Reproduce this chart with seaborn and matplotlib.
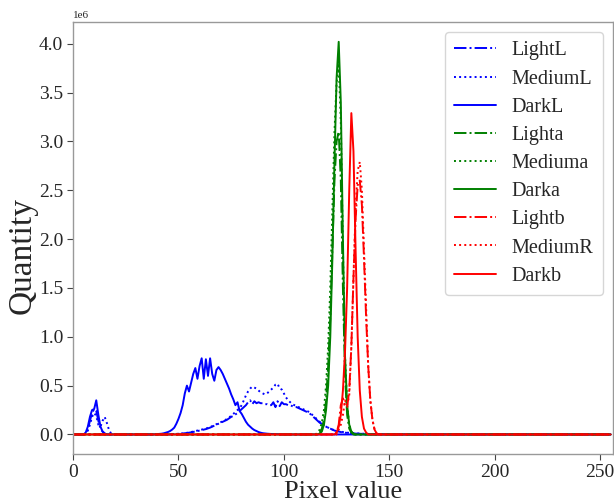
import numpy as np
import pandas as pd
import seaborn as sns
import matplotlib
matplotlib.use("Agg")
import matplotlib.pyplot as plt

# ---------------- data (values in millions) ----------------
pixel_values = np.arange(256)

lightL_start_a = 5
lightL_a = [0.0, 0.01, 0.05, 0.14, 0.22, 0.26, 0.24, 0.14, 0.06, 0.03, 0.01, 0.0]
lightL_start_b = 45
lightL_b = [0.0, 0.002, 0.003, 0.004, 0.005, 0.006, 0.008, 0.01, 0.012, 0.015,
            0.018, 0.022, 0.026, 0.03, 0.035, 0.04, 0.045, 0.05, 0.055, 0.062,
            0.07, 0.08, 0.09, 0.10, 0.11, 0.12, 0.13, 0.14, 0.15, 0.165,
            0.18, 0.19, 0.205, 0.22, 0.24, 0.26, 0.28, 0.30, 0.33, 0.35,
            0.31, 0.34, 0.32, 0.33, 0.32, 0.32, 0.31, 0.31, 0.30, 0.30,
            0.33, 0.28, 0.34, 0.29, 0.33, 0.31, 0.31, 0.30, 0.30, 0.29,
            0.28, 0.28, 0.27, 0.26, 0.25, 0.24, 0.23, 0.22, 0.20, 0.18,
            0.16, 0.14, 0.12, 0.11, 0.09, 0.08, 0.07, 0.06, 0.05, 0.04,
            0.035, 0.03, 0.025, 0.02, 0.018, 0.015, 0.013, 0.011, 0.01, 0.009,
            0.008, 0.007, 0.006, 0.005, 0.005, 0.004, 0.004, 0.003, 0.003, 0.002,
            0.002, 0.002, 0.001, 0.001, 0.001, 0.001, 0.0]

mediumL_start_a = 5
mediumL_a = [0.0, 0.01, 0.04, 0.10, 0.18, 0.22, 0.19, 0.10, 0.08, 0.14,
             0.18, 0.12, 0.05, 0.01, 0.0]
mediumL_start_b = 45
mediumL_b = [0.0, 0.002, 0.003, 0.004, 0.005, 0.007, 0.009, 0.011, 0.014, 0.017,
             0.02, 0.025, 0.03, 0.035, 0.04, 0.045, 0.05, 0.055, 0.06, 0.068,
             0.075, 0.085, 0.095, 0.105, 0.115, 0.125, 0.135, 0.145, 0.16, 0.175,
             0.19, 0.21, 0.23, 0.25, 0.27, 0.30, 0.35, 0.40, 0.44, 0.47,
             0.49, 0.48, 0.47, 0.45, 0.43, 0.42, 0.41, 0.42, 0.44, 0.46,
             0.48, 0.51, 0.52, 0.47, 0.46, 0.42, 0.38, 0.35, 0.33, 0.31,
             0.30, 0.29, 0.28, 0.27, 0.26, 0.25, 0.24, 0.23, 0.21, 0.19,
             0.17, 0.15, 0.13, 0.11, 0.095, 0.08, 0.07, 0.06, 0.05, 0.045,
             0.04, 0.035, 0.03, 0.025, 0.02, 0.018, 0.016, 0.014, 0.012, 0.011,
             0.01, 0.009, 0.008, 0.007, 0.006, 0.005, 0.005, 0.004, 0.004, 0.003,
             0.003, 0.002, 0.002, 0.001, 0.001, 0.0]

darkL_start_a = 5
darkL_a = [0.0, 0.02, 0.08, 0.18, 0.25, 0.26, 0.35, 0.20, 0.08, 0.03, 0.01, 0.0]
darkL_start_b = 38
darkL_b = [0.0, 0.002, 0.003, 0.005, 0.008, 0.012, 0.018, 0.025, 0.035, 0.05,
           0.07, 0.11, 0.16, 0.22, 0.30, 0.42, 0.50, 0.44, 0.53, 0.62,
           0.68, 0.57, 0.70, 0.78, 0.57, 0.77, 0.60, 0.78, 0.62, 0.55,
           0.66, 0.69, 0.66, 0.62, 0.57, 0.52, 0.47, 0.41, 0.36, 0.30,
           0.33, 0.24, 0.21, 0.17, 0.13, 0.10, 0.08, 0.06, 0.045, 0.035,
           0.025, 0.018, 0.013, 0.01, 0.008, 0.006, 0.005, 0.004, 0.003, 0.002,
           0.002, 0.001, 0.0]

lighta_start = 116
lighta = [0.0, 0.02, 0.06, 0.15, 0.35, 0.70, 1.20, 1.90, 2.60, 3.00,
          3.10, 2.60, 1.50, 0.60, 0.20, 0.06, 0.02, 0.0]
mediuma_start = 115
mediuma = [0.0, 0.02, 0.05, 0.12, 0.25, 0.50, 0.90, 1.50, 2.30, 3.10,
           3.60, 3.80, 3.20, 1.90, 0.80, 0.30, 0.10, 0.03, 0.0]
darka_start = 116
darka = [0.0, 0.01, 0.03, 0.10, 0.25, 0.50, 1.00, 1.80, 2.80, 3.65,
         4.02, 3.40, 2.00, 0.80, 0.30, 0.10, 0.03, 0.01, 0.0]

lightb_start = 124
lightb = [0.0, 0.02, 0.10, 0.30, 0.37, 0.30, 0.28, 0.45, 0.90, 1.60,
          2.20, 2.55, 2.60, 2.35, 1.80, 1.20, 0.70, 0.35, 0.15, 0.05,
          0.01, 0.0]
mediumR_start = 125
mediumR = [0.0, 0.05, 0.10, 0.20, 0.35, 0.30, 0.40, 0.90, 1.60, 2.30,
           2.70, 2.79, 2.50, 1.90, 1.30, 0.70, 0.35, 0.15, 0.05, 0.01,
           0.0]
darkb_start = 124
darkb = [0.0, 0.02, 0.08, 0.20, 0.45, 0.85, 1.50, 2.50, 3.29, 2.90,
         1.90, 1.00, 0.45, 0.18, 0.06, 0.02, 0.0]

series_names = ["LightL", "MediumL", "DarkL", "Lighta", "Mediuma", "Darka",
                "Lightb", "MediumR", "Darkb"]
series_colors = ["blue", "blue", "blue", "green", "green", "green", "red", "red", "red"]
series_styles = ["-.", ":", "-", "-.", ":", "-", "-.", ":", "-"]
series_segments = [
    [(lightL_start_a, lightL_a), (lightL_start_b, lightL_b)],
    [(mediumL_start_a, mediumL_a), (mediumL_start_b, mediumL_b)],
    [(darkL_start_a, darkL_a), (darkL_start_b, darkL_b)],
    [(lighta_start, lighta)],
    [(mediuma_start, mediuma)],
    [(darka_start, darka)],
    [(lightb_start, lightb)],
    [(mediumR_start, mediumR)],
    [(darkb_start, darkb)],
]

# ---------------- build frames ----------------
frames = []
for name, segs in zip(series_names, series_segments):
    y = np.zeros(len(pixel_values))
    for start, vals in segs:
        y[start:start + len(vals)] = vals
    frames.append(pd.DataFrame({"Pixel value": pixel_values,
                                "Quantity": y * 1e6,
                                "series": name}))

# ---------------- plot ----------------
sns.set_style("white")
plt.rcParams["font.family"] = ["Liberation Serif", "DejaVu Serif"]

fig = plt.figure(figsize=(6.14, 5.04), dpi=100)
ax = fig.add_axes([0.119, 0.099, 0.879, 0.857])

for df, name, c, ls in zip(frames, series_names, series_colors, series_styles):
    sns.lineplot(data=df, x="Pixel value", y="Quantity", ax=ax, color=c,
                 linestyle=ls, linewidth=1.4, label=name)

ax.set_xlim(0, 256)
ax.set_xticks([0, 50, 100, 150, 200, 250])
ax.set_yticks(np.arange(0, 4.01e6, 0.5e6))
ax.tick_params(axis="both", labelsize=14, length=4, width=0.8, color="#444",
               direction="out", bottom=True, left=True, pad=3)
ax.yaxis.get_offset_text().set_fontsize(8)
ax.set_xlabel("Pixel value", fontsize=19, labelpad=0)
ax.set_ylabel("Quantity", fontsize=24)
ax.yaxis.set_label_coords(-0.066, 0.46)
for s in ax.spines.values():
    s.set_color("#999999")
    s.set_linewidth(1.0)

leg = ax.legend(loc="upper right", fontsize=14.5, frameon=True,
                handlelength=2.05, borderpad=0.45, labelspacing=0.45,
                handletextpad=0.8, borderaxespad=0.5)
leg.get_frame().set_edgecolor("#cccccc")

fig.savefig("out.png", dpi=100)
